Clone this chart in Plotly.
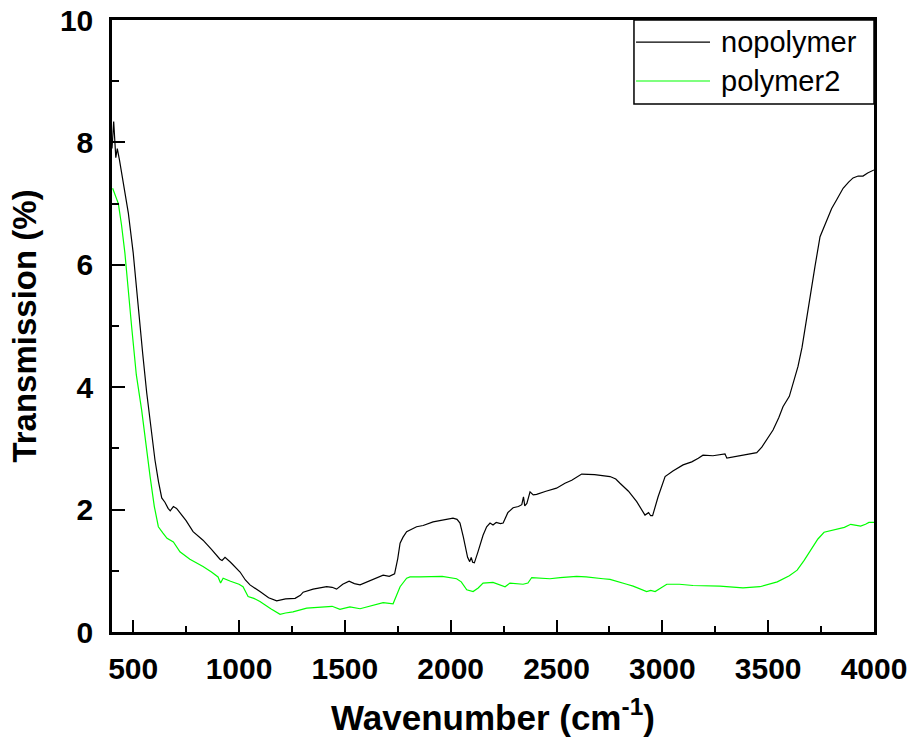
import plotly.graph_objects as go

# ---- data ----
series_names = ["nopolymer", "polymer2"]

nopolymer_x = [400, 408, 418, 425, 435, 461, 477, 500, 524, 545, 564, 585, 603, 620, 635, 650, 665, 675, 690, 705,
               721, 750, 783, 830, 870, 910, 920, 934, 960, 1005, 1030, 1052, 1099, 1140, 1178, 1220, 1265, 1290,
               1303, 1350, 1414, 1440, 1461, 1490, 1520, 1545, 1572, 1630, 1681, 1710, 1735, 1750, 1761, 1775,
               1792, 1839, 1870, 1917, 1960, 2011, 2030, 2044, 2060, 2068, 2080, 2090, 2097, 2104, 2112, 2129,
               2145, 2153, 2170, 2186, 2200, 2215, 2235, 2248, 2270, 2295, 2320, 2336, 2344, 2350, 2360, 2375,
               2390, 2406, 2450, 2500, 2540, 2572, 2619, 2680, 2753, 2780, 2800, 2840, 2879, 2900, 2918, 2935,
               2945, 2954, 2965, 2980, 3013, 3050, 3098, 3139, 3170, 3192, 3239, 3296, 3305, 3367, 3446, 3470,
               3493, 3523, 3550, 3570, 3600, 3641, 3660, 3682, 3700, 3721, 3745, 3776, 3800, 3823, 3840, 3854,
               3880, 3901, 3925, 3948, 3970, 3989, 4000]
nopolymer_y = [7.9, 8.34, 7.75, 7.9, 7.72, 7.22, 6.85, 6.2, 5.26, 4.55, 3.91, 3.3, 2.81, 2.45, 2.19, 2.12, 2.02, 1.98, 2.05, 2.02,
               1.95, 1.82, 1.64, 1.50, 1.35, 1.19, 1.17, 1.22, 1.14, 0.98, 0.85, 0.77, 0.66, 0.56, 0.51, 0.54, 0.55, 0.60,
               0.65, 0.70, 0.74, 0.73, 0.70, 0.78, 0.83, 0.79, 0.77, 0.85, 0.93, 0.91, 0.95, 1.20, 1.45, 1.55,
               1.64, 1.72, 1.74, 1.80, 1.83, 1.86, 1.84, 1.78, 1.55, 1.39, 1.22, 1.15, 1.22, 1.14, 1.13, 1.31,
               1.50, 1.58, 1.72, 1.78, 1.75, 1.79, 1.77, 1.78, 1.95, 2.03, 2.05, 2.08, 2.21, 2.06, 2.10, 2.29,
               2.24, 2.25, 2.30, 2.35, 2.43, 2.48, 2.58, 2.57, 2.54, 2.50, 2.43, 2.30, 2.13, 2.02, 1.91, 1.95,
               1.90, 1.90, 2.05, 2.21, 2.54, 2.63, 2.73, 2.78, 2.84, 2.89, 2.88, 2.91, 2.84, 2.88, 2.93, 3.02,
               3.14, 3.30, 3.50, 3.68, 3.85, 4.34, 4.65, 5.15, 5.55, 5.97, 6.46, 6.73, 6.92, 7.06, 7.17, 7.25,
               7.35, 7.42, 7.45, 7.45, 7.50, 7.54, 7.55]

polymer2_x = [403, 430, 445, 461, 493, 515, 540, 560, 580, 600, 619, 640, 660, 690, 721, 768, 800, 830, 870, 901,
              913, 925, 960, 1000, 1019, 1035, 1043, 1070, 1099, 1150, 1194, 1220, 1255, 1320, 1414, 1440, 1477,
              1524, 1572, 1630, 1681, 1728, 1745, 1761, 1792, 1808, 1855, 1917, 1960, 2028, 2050, 2076, 2106,
              2130, 2153, 2200, 2257, 2280, 2342, 2365, 2383, 2469, 2517, 2595, 2640, 2720, 2753, 2832, 2862,
              2926, 2945, 2966, 3021, 3080, 3145, 3272, 3381, 3461, 3543, 3600, 3637, 3670, 3701, 3735, 3764,
              3800, 3827, 3860, 3890, 3937, 3960, 3976, 4000]
polymer2_y = [7.25, 7.0, 6.65, 6.19, 4.98, 4.2, 3.63, 3.05, 2.54, 2.05, 1.72, 1.62, 1.53, 1.47, 1.31, 1.19, 1.13, 1.07, 0.98, 0.90,
              0.80, 0.88, 0.83, 0.78, 0.74, 0.62, 0.58, 0.55, 0.50, 0.38, 0.29, 0.31, 0.33, 0.39, 0.41, 0.42, 0.37,
              0.41, 0.38, 0.43, 0.48, 0.46, 0.60, 0.74, 0.88, 0.90, 0.90, 0.90, 0.91, 0.87, 0.82, 0.69, 0.66,
              0.72, 0.80, 0.81, 0.74, 0.80, 0.78, 0.80, 0.89, 0.87, 0.89, 0.91, 0.90, 0.87, 0.86, 0.78, 0.75,
              0.66, 0.68, 0.66, 0.78, 0.78, 0.76, 0.75, 0.72, 0.74, 0.82, 0.92, 1.01, 1.17, 1.34, 1.52, 1.63,
              1.66, 1.68, 1.71, 1.76, 1.73, 1.76, 1.79, 1.79]

x_tick_vals = [500, 1000, 1500, 2000, 2500, 3000, 3500, 4000]
x_minor_vals = [750, 1250, 1750, 2250, 2750, 3250, 3750]
y_tick_vals = [0, 2, 4, 6, 8, 10]
y_minor_vals = [1, 3, 5, 7, 9]
x_title = "Wavenumber (cm<sup>-1</sup>)"
y_title = "Transmission (%)"

series_colors = ["#000000", "#00ff00"]

fig = go.Figure()
for name, xs, ys, col in zip(series_names, [nopolymer_x, polymer2_x], [nopolymer_y, polymer2_y], series_colors):
    fig.add_trace(go.Scatter(x=xs, y=ys, mode="lines", name=name,
                             line=dict(color=col, width=1.2), showlegend=False))

FONT = "Arial, 'Liberation Sans', sans-serif"

fig.update_layout(
    width=912, height=746,
    margin=dict(l=112, r=38, t=20, b=114, autoexpand=False),
    paper_bgcolor="white", plot_bgcolor="white",
    font=dict(family=FONT, color="black"),
    xaxis=dict(
        range=[400, 4000], tickvals=x_tick_vals, ticktext=[str(v) for v in x_tick_vals],
        ticks="inside", ticklen=12, tickwidth=2, tickcolor="black",
        minor=dict(tickvals=x_minor_vals, ticks="inside", ticklen=6, tickwidth=2, tickcolor="black"),
        showline=True, linecolor="black", linewidth=2.5, mirror=True,
        showgrid=False, zeroline=False, automargin=False,
        tickfont=dict(family=FONT, size=30, weight="bold"),
        ticklabelstandoff=8,
        title=dict(text=x_title, font=dict(family=FONT, size=35, weight="bold"), standoff=22),
    ),
    yaxis=dict(
        range=[0, 10], tickvals=y_tick_vals, ticktext=[str(v) for v in y_tick_vals],
        ticks="inside", ticklen=13, tickwidth=2, tickcolor="black",
        minor=dict(tickvals=y_minor_vals, ticks="inside", ticklen=7, tickwidth=2, tickcolor="black"),
        showline=True, linecolor="black", linewidth=2.5, mirror=True,
        showgrid=False, zeroline=False, automargin=False,
        tickfont=dict(family=FONT, size=30, weight="bold"),
        ticklabelstandoff=10,
        title=dict(text=y_title, font=dict(family=FONT, size=33, weight="bold"), standoff=14),
    ),
)

# legend drawn in the top-right corner (box, line samples, labels)
box_x0, box_x1, box_y0, box_y1 = 0.685, 1.0, 0.8627, 1.0
fig.add_shape(type="rect", xref="paper", yref="paper", x0=box_x0, x1=box_x1, y0=box_y0, y1=box_y1,
              line=dict(color="black", width=1.5), fillcolor="rgba(0,0,0,0)")
row_y = [0.964, 0.9003]
for name, col, yy in zip(series_names, series_colors, row_y):
    fig.add_shape(type="line", xref="paper", yref="paper", x0=0.6877, x1=0.7848, y0=yy, y1=yy,
                  line=dict(color=col, width=1.2))
    fig.add_annotation(xref="paper", yref="paper", x=0.7966, y=yy, text=name, showarrow=False,
                       xanchor="left", yanchor="middle", font=dict(family=FONT, size=29, color="black"))

fig.write_html("out.html")
